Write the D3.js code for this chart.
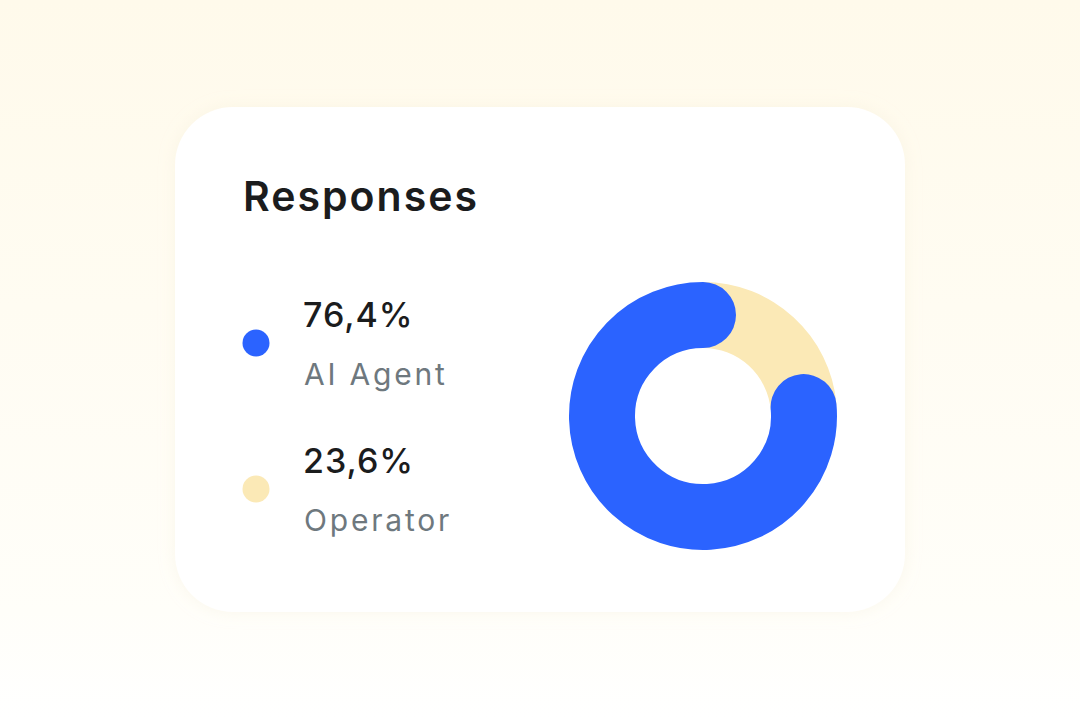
<!DOCTYPE html>
<html>
<head>
<meta charset="utf-8">
<script src="https://cdn.jsdelivr.net/npm/d3@7"></script>
<style>
  html, body { margin: 0; padding: 0; }
  body { width: 1080px; height: 720px; overflow: hidden; }
</style>
</head>
<body>
<svg id="chart" width="1080" height="720"></svg>
<script>
// ---- data ----
const title = "Responses";
const categories = ["AI Agent", "Operator"];
const values = [76.4, 23.6];
const valueLabels = ["76,4%", "23,6%"];
const colors = ["#2B63FF", "#FBE9B6"];

const svg = d3.select("#chart");
const W = 1080, H = 720;
const defs = svg.append("defs");

const bg = defs.append("linearGradient").attr("id", "bg").attr("x1", 0).attr("y1", 0).attr("x2", 0).attr("y2", 1);
bg.append("stop").attr("offset", "0%").attr("stop-color", "#FFFAEB");
bg.append("stop").attr("offset", "85%").attr("stop-color", "#FFFEF9");
bg.append("stop").attr("offset", "100%").attr("stop-color", "#FFFFFF");

const shadow = defs.append("filter").attr("id", "shadow").attr("x", "-20%").attr("y", "-20%").attr("width", "140%").attr("height", "140%");
shadow.append("feDropShadow").attr("dx", 0).attr("dy", 0).attr("stdDeviation", 8)
  .attr("flood-color", "#EFE6CC").attr("flood-opacity", 0.3);

svg.append("rect").attr("width", W).attr("height", H).attr("fill", "url(#bg)");

// card
svg.append("rect")
  .attr("x", 175).attr("y", 107).attr("width", 730).attr("height", 505)
  .attr("rx", 58).attr("ry", 58)
  .attr("fill", "#FFFFFF")
  .attr("filter", "url(#shadow)");

const font = "Inter, 'Open Sans', sans-serif";

svg.append("text")
  .attr("x", 243).attr("y", 211)
  .attr("font-family", font).attr("font-weight", 600)
  .attr("font-size", 41).attr("fill", "#1B1C1D")
  .attr("letter-spacing", "2")
  .text(title);

// legend
const legendY = d3.scalePoint().domain(categories).range([343, 489]);
const leg = svg.append("g").selectAll("g").data(categories).join("g")
  .attr("transform", d => `translate(0,${legendY(d)})`);
leg.append("circle").attr("cx", 256).attr("cy", 0).attr("r", 13.5)
  .attr("fill", (d, i) => colors[i]);
leg.append("text").attr("x", 303).attr("y", -16)
  .attr("font-family", font).attr("font-weight", 500).attr("font-size", 34)
  .attr("fill", "#1B1C1D").attr("letter-spacing", "1")
  .text((d, i) => valueLabels[i]);
leg.append("text").attr("x", 304).attr("y", 42)
  .attr("font-family", font).attr("font-weight", 400).attr("font-size", 30)
  .attr("fill", "#6E787E").attr("letter-spacing", "2.8")
  .text(d => d);

// donut
const cx = 703, cy = 416, rOuter = 134, rInner = 68;
const total = d3.sum(values);
const angle = d3.scaleLinear().domain([0, total]).range([0, 2 * Math.PI]);
const g = svg.append("g").attr("transform", `translate(${cx},${cy})`);

// Operator segment (clockwise from 12 o'clock)
const opAngle = angle(values[1]);
g.append("path")
  .attr("d", d3.arc().innerRadius(rInner).outerRadius(rOuter)({ startAngle: 0, endAngle: opAngle }))
  .attr("fill", colors[1]);

// AI Agent segment as a round-capped stroke from end of Operator to full circle
const rMid = (rInner + rOuter) / 2;
const p = d3.path();
// d3 angles: 0 at 12 o'clock clockwise -> math angle = a - PI/2
p.arc(0, 0, rMid, opAngle - Math.PI / 2, opAngle + angle(values[0]) - Math.PI / 2, false);
g.append("path")
  .attr("d", p.toString())
  .attr("fill", "none")
  .attr("stroke", colors[0])
  .attr("stroke-width", rOuter - rInner)
  .attr("stroke-linecap", "round");
</script>
</body>
</html>
